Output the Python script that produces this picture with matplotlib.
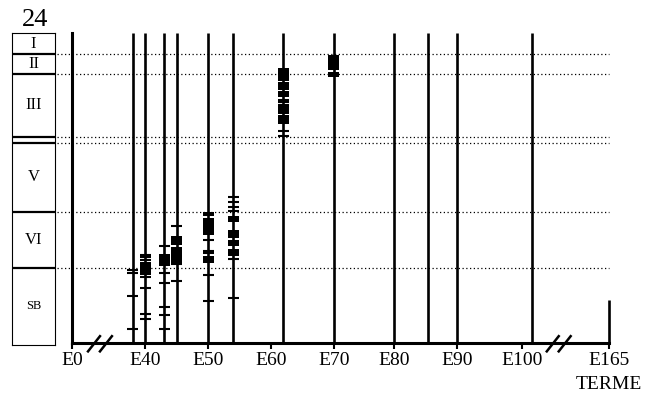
import matplotlib.pyplot as plt
import matplotlib.transforms as mtransforms

plt.rcParams['font.family'] = ['Liberation Serif', 'DejaVu Serif']

# cortical layers, depth in % of thickness (0 = bottom of SB, 100 = pia)
layer_names = ["I", "II", "III", "", "V", "VI", "SB"]
layer_tops = [100, 93.2, 86.8, 66.5, 64.5, 42.3, 24.2]
layer_bottoms = [93.2, 86.8, 66.5, 64.5, 42.3, 24.2, -0.65]

# ages (embryonic days) with a vertical line
line_ages = [38, 40, 43, 45, 50, 54, 62, 70, 79.6, 85, 89.6, 101.5]

# single cells (dashes) and clusters (squares, bottom/top) per age
dashes_e38 = [23.7, 22.6, 15.3, 4.6]
dashes_e40 = [28.5, 27.7, 26.9, 21.3, 17.9, 9.4, 7.7]
squares_e40 = [(21.9, 26.1)]
dashes_e43 = [31.4, 22.7, 19.2, 11.5, 8.9, 4.4]
squares_e43 = [(24.7, 28.6)]
dashes_e45 = [37.8, 25.5, 20.1]
squares_e45 = [(31.6, 34.5), (25.9, 31.1)]
dashes_e50 = [33.2, 29.8, 28.9, 21.9, 13.5]
squares_e50 = [(41.0, 42.4), (34.8, 40.2), (25.8, 28.1)]
dashes_e54 = [47.1, 45.6, 44.0, 42.6, 27.1, 14.4]
squares_e54 = [(39.0, 41.0), (33.9, 36.5), (31.3, 33.2), (28.1, 30.3)]
dashes_e62 = [78.4, 77.7, 76.9, 68.4, 66.9]
squares_e62 = [(84.6, 88.7), (81.6, 84.3), (79.2, 81.4), (74.0, 76.5), (70.8, 73.6)]
squares_e70 = [(88.1, 92.9), (85.8, 87.4)]

marks = {
    38: (dashes_e38, []),
    40: (dashes_e40, squares_e40),
    43: (dashes_e43, squares_e43),
    45: (dashes_e45, squares_e45),
    50: (dashes_e50, squares_e50),
    54: (dashes_e54, squares_e54),
    62: (dashes_e62, squares_e62),
    70: ([], squares_e70),
}

tick_labels = ["E0", "E40", "E50", "E60", "E70", "E80", "E90", "E100", "E165"]
tick_ages = [40, 50, 60, 70, 79.6, 89.6, 100]

# broken axis: E0 and E165 sit at the two ends
x_start, x_end = 28.35, 113.8
tick_pos = [x_start] + tick_ages + [x_end]

fig = plt.figure(figsize=(6.47, 4.0), dpi=100)
ax = fig.add_axes([72 / 647, 57 / 400, 537 / 647, 310 / 400])
ax.set_xlim(x_start, x_end)
ax.set_ylim(0, 100)

for s in ["top", "right"]:
    ax.spines[s].set_visible(False)
for s in ["left", "bottom"]:
    ax.spines[s].set_linewidth(2.2)
ax.set_yticks([])
ax.set_xticks(tick_pos)
ax.set_xticklabels(tick_labels)
ax.tick_params(axis='x', direction='out', length=4.5, width=1.5, labelsize=14, pad=2)

# dotted layer boundaries
for b in layer_bottoms[:-1]:
    ax.axhline(b, xmin=-0.028, xmax=1.0, color='black', lw=0.9,
               linestyle=(0, (1, 2)), clip_on=False, zorder=1)

ax.vlines(line_ages, 0, 100, color='black', lw=1.9, zorder=2)
ax.vlines([x_end], 0, 14, color='black', lw=1.9, clip_on=False, zorder=2)

half = 0.87
for age, (dashes, squares) in marks.items():
    if dashes:
        ax.hlines(dashes, age - half, age + half, color='black', lw=1.5, zorder=3)
    for lo, hi in squares:
        ax.bar(age, hi - lo, bottom=lo, width=2 * half, color='black', zorder=3)

# axis break marks
trans = mtransforms.blended_transform_factory(ax.transData, ax.transAxes)
for x0 in [30.9, 32.8, 103.9, 105.8]:
    ax.plot([x0, x0 + 1.9], [-0.027, 0.022], color='black', lw=1.8,
            transform=trans, clip_on=False)

ax.text(x_end, -0.135, "TERME", transform=trans, ha='center', va='center', fontsize=14)

# layer box on the left
ax_box = fig.add_axes([12 / 647, 55 / 400, 43 / 647, 312 / 400])
ax_box.set_xlim(0, 1)
ax_box.set_ylim(-0.65, 100)
ax_box.set_xticks([])
ax_box.set_yticks([])
for s in ax_box.spines.values():
    s.set_linewidth(0.8)
for name, top, bot in zip(layer_names, layer_tops, layer_bottoms):
    if bot > 0:
        ax_box.axhline(bot, color='black', lw=1.6)
    if name:
        ax_box.text(0.5, (top + bot) / 2, name, ha='center', va='center',
                    fontsize=9 if name == "SB" else 12)

fig.text(35 / 647, 1 - 20 / 400, "24", fontsize=19, ha='center', va='center')

fig.savefig("out.png", dpi=100)
